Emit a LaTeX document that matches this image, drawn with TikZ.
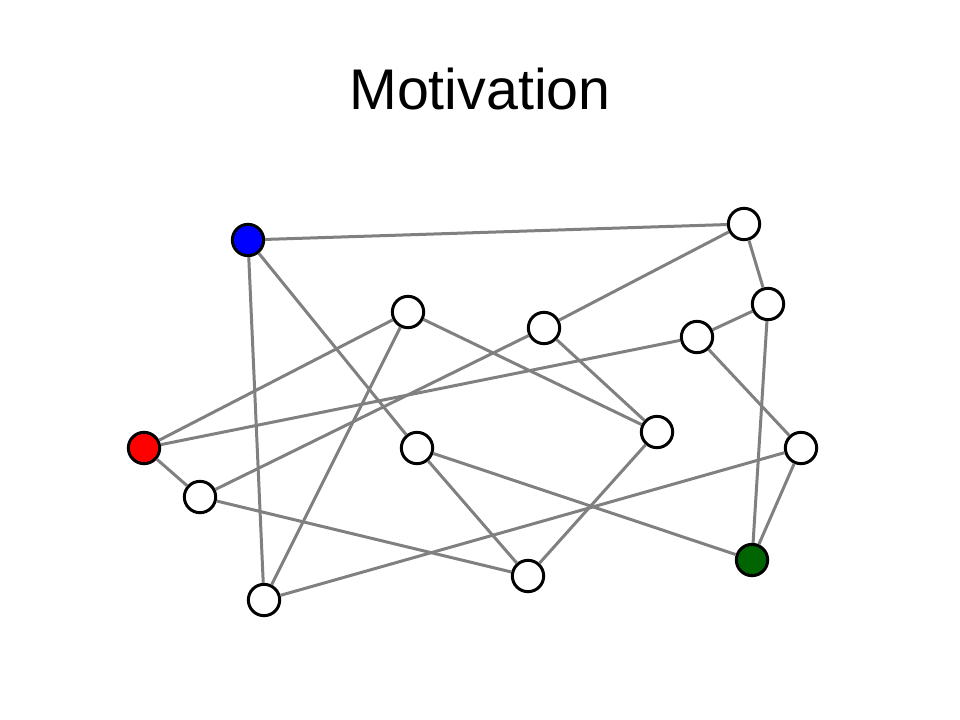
\documentclass[tikz,border=0pt]{standalone}
\usepackage{fontspec}
\setmainfont{Liberation Sans}
\usepackage{tikz}
\usetikzlibrary{positioning}
\definecolor{edgegray}{RGB}{128, 128, 128}
\definecolor{sblue}{RGB}{0, 0, 255}
\definecolor{sred}{RGB}{255, 0, 0}
\definecolor{sgreen}{RGB}{0, 100, 0}

\begin{document}
\begin{tikzpicture}[x=0.75pt, y=-0.75pt]
    \tikzstyle{vertex}=[circle, draw=black, line width=2.25pt, fill=white,
    minimum size=23.5pt, inner sep=0pt]
    \tikzstyle{edge}=[line width=2.25pt, color=edgegray]

    % Page frame
    \useasboundingbox (0, 0) rectangle (960, 720);

    % Title
    \node (title) [anchor=base] at (480, 110) {\fontsize{43}{50}\selectfont Motivation};

    % Draw the vertices
    \node [vertex, fill=sblue] (src) at (248, 240) {};
    \node [vertex, fill=sred] (dst) at (144, 448) {};
    \node [vertex, fill=sgreen] (mid) at (752, 560) {};
    \node [vertex] (v1) at (744, 224) {};
    \node [vertex] (v2) at (768, 304) {};
    \node [vertex] (v3) at (408, 312) {};
    \node [vertex] (v4) at (544, 328) {};
    \node [vertex] (v5) at (697, 337) {};
    \node [vertex] (v6) at (417, 448) {};
    \node [vertex] (v7) at (657, 432) {};
    \node [vertex] (v8) at (801, 448) {};
    \node [vertex] (v9) at (200, 497) {};
    \node [vertex] (v10) at (528, 576) {};
    \node [vertex] (v11) at (264, 600) {};

    % Draw the edges
    \draw [edge] (src) -- (v1);
    \draw [edge] (src) -- (v11);
    \draw [edge] (src) -- (v6);
    \draw [edge] (v1) -- (v2);
    \draw [edge] (v1) -- (v4);
    \draw [edge] (v2) -- (v5);
    \draw [edge] (v2) -- (mid);
    \draw [edge] (v3) -- (dst);
    \draw [edge] (v3) -- (v11);
    \draw [edge] (v3) -- (v7);
    \draw [edge] (v4) -- (v9);
    \draw [edge] (v4) -- (v7);
    \draw [edge] (v5) -- (dst);
    \draw [edge] (v5) -- (v8);
    \draw [edge] (dst) -- (v9);
    \draw [edge] (v9) -- (v10);
    \draw [edge] (v6) -- (v10);
    \draw [edge] (v6) -- (mid);
    \draw [edge] (v7) -- (v10);
    \draw [edge] (v8) -- (mid);
    \draw [edge] (v8) -- (v11);

\end{tikzpicture}
\end{document}
